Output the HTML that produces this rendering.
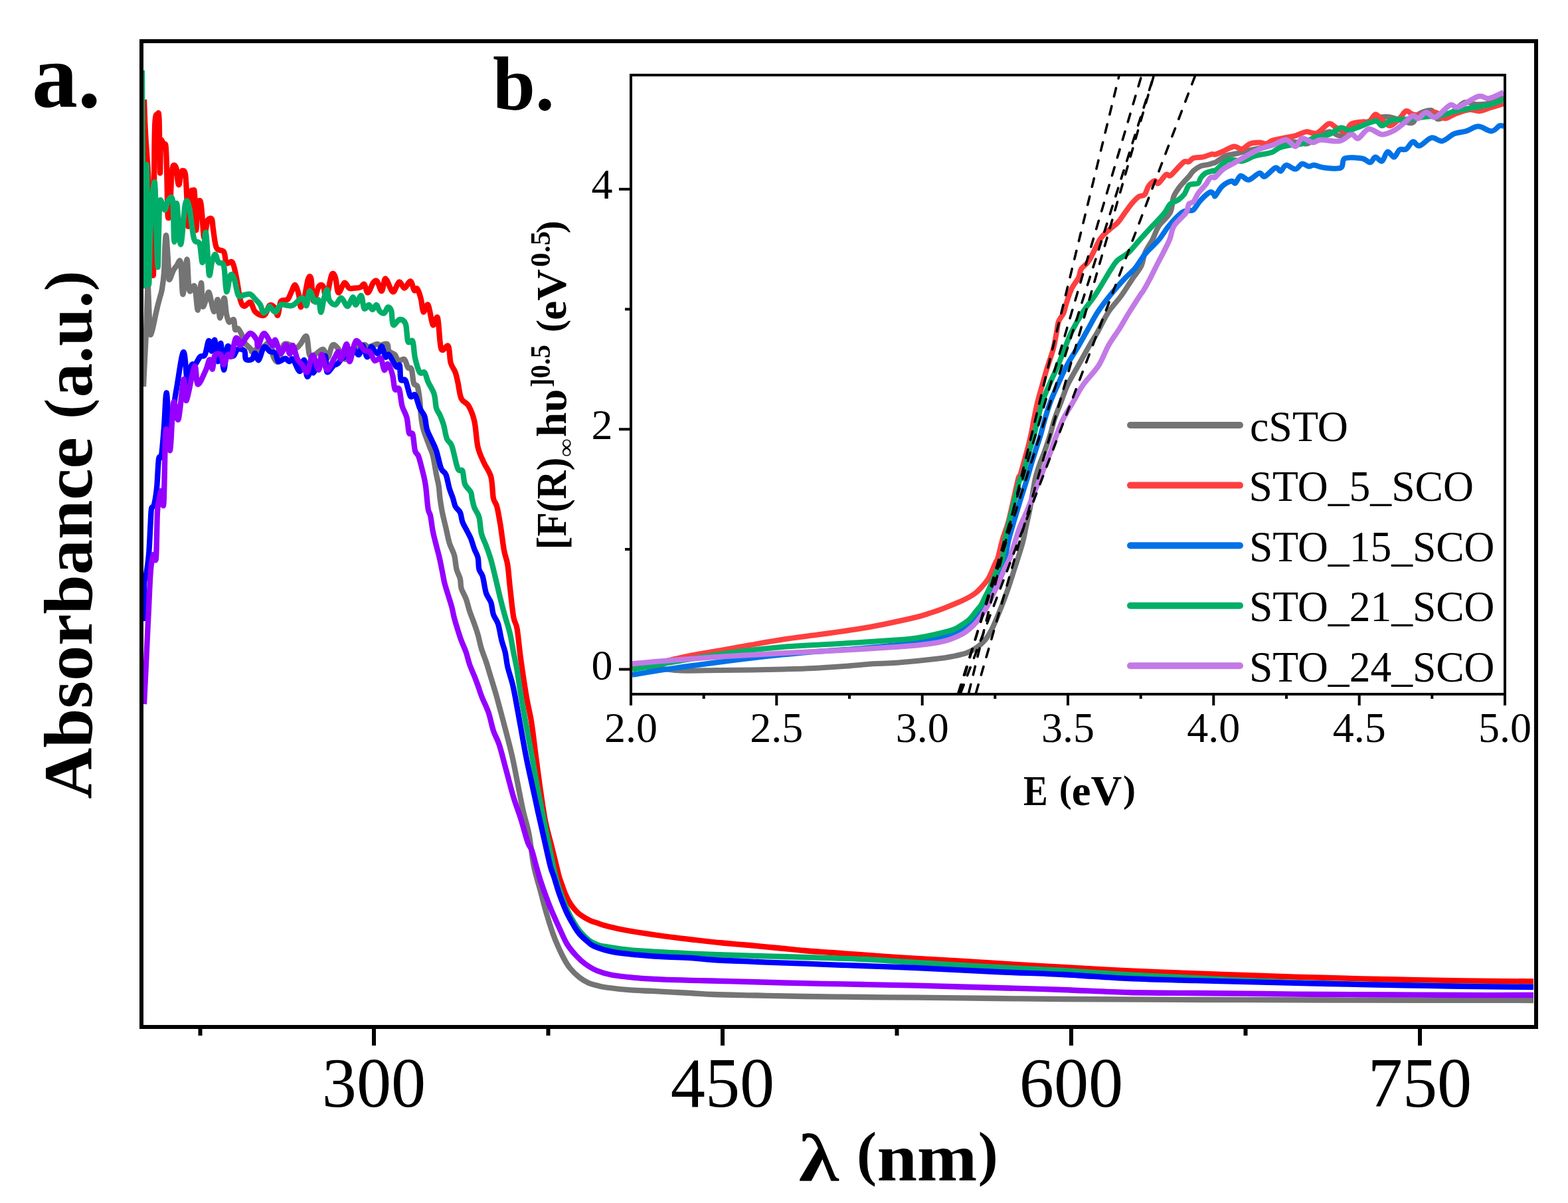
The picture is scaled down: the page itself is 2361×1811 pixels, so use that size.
<!DOCTYPE html>
<html><head><meta charset="utf-8"><title>Absorbance spectra</title>
<style>
html,body{margin:0;padding:0;background:#fff;}
svg{display:block;}
text{font-family:"Liberation Serif","DejaVu Serif",serif;fill:#000;}
.b{font-weight:bold;}
</style></head>
<body>
<svg width="2361" height="1811" viewBox="0 0 2361 1811">
<rect x="0" y="0" width="2361" height="1811" fill="#fff"/>
<!-- MAIN CURVES -->
<defs><clipPath id="cm"><rect x="216" y="65" width="2094" height="1478"/></clipPath><clipPath id="ci"><rect x="952" y="115" width="1312" height="928"/></clipPath></defs>
<g fill="none" stroke-width="8.3" stroke-linejoin="round" stroke-linecap="butt" clip-path="url(#cm)">
<path stroke="#747474" d="M216.0 582.0C216.3 575.0 217.3 553.7 218.0 540.0C218.7 526.3 219.3 516.7 220.0 500.0C220.7 483.3 221.6 452.8 222.0 440.0C222.4 427.2 222.2 418.0 222.6 423.0C223.0 428.0 223.9 456.8 224.5 470.0C225.1 483.2 225.2 497.3 226.0 502.0C226.8 506.7 227.8 501.7 229.0 498.0C230.2 494.3 231.7 486.0 233.0 480.0C234.3 474.0 235.7 467.5 237.0 462.0C238.3 456.5 239.8 451.5 241.0 447.0C242.2 442.5 243.0 441.2 244.0 435.0C245.0 428.8 246.2 420.8 247.0 410.0C247.8 399.2 247.9 379.0 248.5 370.0C249.1 361.0 249.6 349.8 250.5 356.0C251.4 362.2 253.2 396.2 254.0 407.0C254.8 417.8 253.8 421.0 255.0 421.0C256.2 421.0 259.2 410.5 261.0 407.0C262.8 403.5 264.2 402.0 266.0 400.0C267.8 398.0 270.4 387.8 272.0 395.0C273.6 402.2 273.9 443.8 275.5 443.0C277.1 442.2 279.8 391.5 281.4 390.5C283.0 389.5 283.1 430.2 285.0 437.0C286.9 443.8 290.8 426.1 293.0 431.0C295.2 435.9 296.4 467.5 298.0 466.7C299.6 465.9 301.7 427.0 302.9 426.0C304.1 425.0 303.8 456.4 305.0 460.7C306.2 465.0 308.4 455.4 310.0 452.0C311.6 448.6 312.8 437.7 314.8 440.5C316.8 443.3 319.8 467.2 322.0 469.0C324.2 470.8 326.3 449.4 327.9 451.0C329.5 452.6 329.8 479.0 331.4 478.6C333.0 478.2 335.8 449.8 337.4 448.8C339.0 447.8 339.7 466.6 341.0 472.6C342.3 478.6 343.2 483.3 345.0 484.8C346.8 486.3 350.5 479.5 352.0 481.4C353.5 483.3 352.9 493.7 354.0 496.0C355.1 498.3 356.9 493.1 358.8 495.0C360.8 496.9 364.2 504.2 365.7 507.7C367.2 511.1 366.1 512.9 368.0 515.7C369.9 518.6 375.1 522.5 377.0 524.8C378.9 527.1 377.9 529.2 379.4 529.4C380.9 529.6 384.1 526.4 386.0 526.0C387.9 525.6 388.9 527.8 390.8 527.0C392.7 526.2 394.7 523.5 397.6 521.4C400.5 519.3 405.7 512.1 408.0 514.5C410.3 516.9 409.4 531.0 411.3 536.0C413.2 541.0 416.6 547.0 419.3 544.2C422.0 541.4 424.1 523.0 427.3 519.0C430.5 515.0 435.6 519.2 438.7 520.0C441.8 520.8 443.7 524.3 446.0 524.0C448.3 523.7 449.8 520.9 452.4 518.0C455.0 515.1 459.3 503.8 461.6 506.5C463.9 509.2 463.9 529.4 466.0 534.0C468.1 538.6 470.6 535.3 474.0 534.0C477.4 532.7 483.4 525.2 486.7 526.0C489.9 526.8 491.2 539.5 493.5 538.5C495.8 537.5 497.9 522.5 500.4 520.0C502.9 517.5 505.2 520.2 508.4 523.7C511.6 527.2 516.9 540.1 519.8 540.8C522.7 541.5 523.5 530.8 526.0 528.0C528.5 525.2 531.3 525.5 535.0 524.0C538.7 522.5 545.1 519.2 548.3 519.0C551.5 518.8 551.9 522.2 554.0 522.5C556.1 522.8 558.4 521.2 560.7 520.5C563.0 519.8 565.9 518.1 567.9 518.0C569.9 517.9 570.5 519.6 573.0 519.6C575.5 519.6 580.9 516.5 583.0 518.0C585.1 519.5 583.8 525.9 585.7 528.6C587.6 531.3 592.2 531.6 594.6 534.0C597.0 536.4 597.6 541.8 600.0 543.0C602.4 544.2 606.6 539.2 609.0 541.0C611.4 542.8 612.5 551.2 614.3 553.6C616.1 556.0 618.1 551.5 619.6 555.4C621.1 559.3 621.5 572.4 623.0 576.8C624.5 581.2 627.1 577.8 628.6 582.0C630.1 586.2 631.1 594.3 632.0 601.8C632.9 609.3 633.1 619.4 634.0 626.8C634.9 634.2 635.4 639.0 637.5 646.4C639.6 653.8 644.0 664.8 646.4 671.4C648.8 678.0 650.0 678.6 651.8 685.7C653.6 692.9 655.5 706.6 657.0 714.3C658.5 722.0 659.8 726.0 660.7 732.0C661.6 738.0 661.6 743.4 662.5 750.0C663.4 756.6 664.5 764.0 666.0 771.4C667.5 778.8 669.6 786.9 671.4 794.6C673.2 802.4 674.7 811.0 676.8 817.9C678.9 824.8 682.2 829.2 684.0 835.7C685.8 842.2 686.0 851.0 687.5 857.0C689.0 863.0 691.7 866.6 692.9 871.4C694.1 876.2 693.1 880.6 694.6 885.7C696.1 890.8 699.7 896.1 701.8 901.8C703.9 907.4 704.9 913.4 707.0 919.6C709.1 925.9 712.2 933.3 714.3 939.3C716.4 945.3 717.8 949.1 719.6 955.4C721.4 961.6 722.9 970.0 725.0 976.8C727.1 983.6 729.9 990.1 732.0 996.4C734.1 1002.6 735.7 1008.4 737.5 1014.3C739.3 1020.2 741.1 1026.0 742.9 1032.0C744.7 1038.0 746.1 1042.5 748.2 1050.0C750.3 1057.5 753.0 1067.9 755.4 1076.8C757.8 1085.7 759.8 1093.2 762.5 1103.6C765.2 1114.0 768.7 1127.4 771.4 1139.3C774.1 1151.2 775.9 1161.6 778.6 1175.0C781.3 1188.4 784.5 1206.2 787.5 1219.6C790.5 1233.0 793.7 1241.4 796.4 1255.4C799.1 1269.4 801.0 1289.8 803.8 1303.8C806.6 1317.8 810.1 1327.6 813.3 1339.5C816.5 1351.4 819.7 1364.3 822.9 1375.2C826.1 1386.1 829.5 1396.9 832.4 1405.0C835.2 1413.1 837.2 1417.7 840.0 1424.0C842.8 1430.3 846.1 1437.4 849.1 1443.0C852.1 1448.6 854.5 1452.8 858.3 1457.5C862.1 1462.2 867.4 1467.3 872.0 1471.0C876.6 1474.7 881.2 1477.4 885.7 1479.5C890.2 1481.6 894.5 1482.3 899.0 1483.5C903.5 1484.7 904.6 1485.3 913.0 1486.5C921.4 1487.7 937.4 1489.5 949.6 1490.4C961.8 1491.4 970.9 1491.4 986.0 1492.2C1001.1 1493.0 1025.3 1494.2 1040.0 1495.0C1054.7 1495.8 1057.3 1496.4 1074.0 1497.0C1090.7 1497.6 1117.2 1498.0 1140.0 1498.5C1162.8 1499.0 1184.3 1499.6 1211.0 1500.0C1237.7 1500.4 1271.8 1500.7 1300.0 1501.0C1328.2 1501.3 1346.7 1501.4 1380.0 1501.7C1413.3 1502.0 1463.3 1502.6 1500.0 1503.0C1536.7 1503.4 1548.5 1503.7 1600.0 1504.0C1651.5 1504.3 1742.3 1504.8 1809.0 1505.0C1875.7 1505.2 1916.7 1505.3 2000.0 1505.5C2083.3 1505.7 2257.5 1505.9 2309.0 1506.0"/>
<path stroke="#FF0000" d="M217.0 150.0C217.3 158.3 218.0 181.7 219.0 200.0C220.0 218.3 221.7 238.3 223.0 260.0C224.3 281.7 225.7 304.7 227.0 330.0C228.3 355.3 230.1 430.3 231.0 412.0C231.9 393.7 232.0 259.0 232.5 220.0C233.0 181.0 233.2 185.8 234.0 178.0C234.8 170.2 236.1 173.0 237.0 173.0C237.9 173.0 238.8 163.5 239.5 178.0C240.2 192.5 240.6 253.8 241.0 260.0C241.4 266.2 241.5 223.0 242.0 215.0C242.5 207.0 243.2 211.5 244.0 212.0C244.8 212.5 245.6 216.8 246.5 218.0C247.4 219.2 248.8 213.7 249.5 219.0C250.2 224.3 250.6 236.5 251.0 250.0C251.4 263.5 251.7 287.2 252.0 300.0C252.3 312.8 252.3 324.0 253.0 327.0C253.7 330.0 255.2 327.5 256.0 318.0C256.8 308.5 257.3 281.0 258.0 270.0C258.7 259.0 259.2 255.5 260.0 252.0C260.8 248.5 262.0 248.3 263.0 249.0C264.0 249.7 265.2 251.7 266.0 256.0C266.8 260.3 267.3 271.5 268.0 275.0C268.7 278.5 269.3 279.2 270.0 277.0C270.7 274.8 271.2 265.3 272.0 262.0C272.8 258.7 273.8 257.0 275.0 257.0C276.2 257.0 278.0 256.5 279.0 262.0C280.0 267.5 280.3 277.0 281.0 290.0C281.7 303.0 282.3 335.0 283.0 340.0C283.7 345.0 284.3 328.3 285.0 320.0C285.7 311.7 286.0 295.5 287.0 290.0C288.0 284.5 290.0 286.7 291.0 287.0C292.0 287.3 292.3 282.2 293.0 292.0C293.7 301.8 294.3 341.3 295.0 346.0C295.7 350.7 296.3 327.0 297.0 320.0C297.7 313.0 298.2 306.7 299.0 304.0C299.8 301.3 301.2 301.3 302.0 304.0C302.8 306.7 303.2 311.2 304.0 320.0C304.8 328.8 306.0 352.8 307.0 357.0C308.0 361.2 309.0 349.3 310.0 345.0C311.0 340.7 311.5 333.5 313.0 331.0C314.5 328.5 317.7 327.7 319.0 330.0C320.3 332.3 319.8 337.8 321.0 345.0C322.2 352.2 323.3 367.3 326.0 373.0C328.7 378.7 334.5 375.2 337.0 379.0C339.5 382.8 338.8 393.3 341.0 396.0C343.2 398.7 347.5 391.3 350.0 395.0C352.5 398.7 354.0 408.5 356.0 418.0C358.0 427.5 360.0 444.8 362.0 452.0C364.0 459.2 365.5 460.5 368.0 461.0C370.5 461.5 374.3 453.7 377.0 455.0C379.7 456.3 381.1 465.7 384.0 469.0C386.9 472.3 391.8 474.4 394.5 475.0C397.2 475.6 398.1 475.0 400.0 472.5C401.9 470.0 403.6 461.8 405.7 460.0C407.8 458.2 410.5 459.6 412.6 462.0C414.7 464.4 416.6 476.0 418.3 474.7C420.0 473.4 420.4 458.0 422.8 454.0C425.2 450.0 430.3 453.2 433.0 450.8C435.7 448.4 436.9 443.0 438.8 439.4C440.7 435.8 442.6 428.2 444.5 429.0C446.4 429.8 448.7 438.5 450.0 444.0C451.3 449.5 451.2 461.1 452.5 462.0C453.8 462.9 456.1 456.6 458.0 449.6C459.9 442.6 462.2 424.9 464.0 420.0C465.8 415.1 467.2 414.5 468.5 420.0C469.8 425.5 470.1 451.1 472.0 453.0C473.9 454.9 477.5 435.0 480.0 431.4C482.5 427.8 484.9 428.5 486.8 431.4C488.7 434.2 489.2 451.4 491.3 448.5C493.4 445.6 497.0 419.1 499.3 414.0C501.6 408.9 503.3 413.3 505.0 417.7C506.7 422.1 507.3 439.2 509.6 440.5C511.9 441.8 516.0 426.8 518.7 425.7C521.4 424.6 522.9 432.4 525.6 433.7C528.3 435.0 531.9 433.9 534.7 433.7C537.6 433.5 540.4 433.4 542.7 432.5C545.0 431.6 546.5 426.7 548.4 428.0C550.3 429.3 551.7 440.9 554.0 440.5C556.3 440.1 559.7 428.6 562.0 425.7C564.3 422.8 565.7 421.3 567.8 423.4C569.9 425.5 572.8 438.6 574.7 438.2C576.6 437.8 577.9 423.7 579.2 421.0C580.5 418.3 580.5 419.1 582.6 422.2C584.7 425.3 588.7 439.0 591.8 439.4C594.9 439.8 598.1 425.4 601.0 424.5C603.9 423.6 606.2 433.9 609.0 433.7C611.8 433.5 615.5 422.8 618.0 423.4C620.5 423.9 622.0 435.1 623.7 437.0C625.4 438.9 626.6 432.5 628.3 434.8C630.0 437.1 632.5 445.0 634.0 450.8C635.5 456.6 635.7 468.2 637.5 469.6C639.3 471.0 642.2 455.8 644.6 459.0C647.0 462.2 649.4 485.7 651.8 489.0C654.2 492.3 656.9 472.6 659.0 478.6C661.1 484.6 661.6 517.9 664.3 525.0C667.0 532.1 672.6 517.5 675.0 521.0C677.4 524.5 676.8 539.4 678.6 546.0C680.4 552.6 683.9 555.9 685.7 560.7C687.5 565.5 687.8 568.5 689.3 575.0C690.8 581.5 691.9 594.0 694.6 600.0C697.3 606.0 702.1 605.0 705.4 610.7C708.7 616.4 711.9 623.6 714.3 634.0C716.7 644.4 717.2 662.6 719.6 673.0C722.0 683.4 725.3 688.9 728.6 696.4C731.9 703.9 736.9 709.1 739.3 718.0C741.7 726.9 741.4 742.6 742.9 750.0C744.4 757.4 746.4 755.7 748.2 762.5C750.0 769.3 751.8 780.0 753.6 791.0C755.4 802.0 757.2 818.8 759.0 828.6C760.8 838.4 762.8 840.8 764.3 850.0C765.8 859.2 766.4 870.9 767.9 884.0C769.4 897.1 771.4 918.2 773.2 928.6C775.0 939.0 776.8 936.0 778.6 946.4C780.4 956.8 781.6 973.7 784.0 991.0C786.4 1008.3 790.2 1034.2 792.9 1050.0C795.6 1065.8 797.6 1070.9 800.0 1085.7C802.4 1100.5 804.6 1121.1 807.0 1139.0C809.4 1156.9 811.9 1176.5 814.3 1192.9C816.7 1209.3 818.7 1224.2 821.4 1237.5C824.1 1250.8 827.5 1261.6 830.4 1273.0C833.2 1284.4 836.6 1298.2 838.5 1306.0C840.4 1313.8 840.7 1315.5 842.0 1320.0C843.3 1324.5 844.9 1328.6 846.5 1333.0C848.1 1337.4 849.7 1342.3 851.4 1346.2C853.1 1350.1 854.6 1353.2 856.5 1356.5C858.4 1359.8 860.4 1362.9 862.6 1365.8C864.9 1368.7 867.3 1371.5 870.0 1374.0C872.7 1376.5 875.8 1378.6 879.0 1380.6C882.2 1382.6 885.5 1384.5 889.0 1386.0C892.5 1387.5 896.6 1388.5 900.0 1389.7C903.4 1390.9 903.8 1391.5 909.6 1393.0C915.4 1394.5 925.9 1397.2 935.0 1399.0C944.1 1400.8 952.3 1402.2 964.0 1404.0C975.7 1405.8 991.2 1408.2 1005.0 1410.0C1018.8 1411.8 1032.8 1413.4 1046.6 1415.0C1060.4 1416.6 1074.3 1418.2 1088.0 1419.5C1101.7 1420.8 1115.1 1421.8 1128.8 1423.0C1142.5 1424.2 1156.3 1425.7 1170.0 1427.0C1183.7 1428.3 1197.3 1429.8 1211.0 1431.0C1224.7 1432.2 1238.3 1433.0 1252.0 1434.0C1265.7 1435.0 1278.3 1435.9 1293.0 1437.0C1307.7 1438.1 1325.5 1439.5 1340.0 1440.5C1354.5 1441.5 1361.7 1441.9 1380.0 1443.0C1398.3 1444.1 1425.0 1445.5 1450.0 1447.0C1475.0 1448.5 1505.0 1450.5 1530.0 1452.0C1555.0 1453.5 1571.7 1454.5 1600.0 1456.0C1628.3 1457.5 1666.7 1459.7 1700.0 1461.3C1733.3 1462.9 1766.7 1464.2 1800.0 1465.5C1833.3 1466.8 1866.7 1467.9 1900.0 1469.0C1933.3 1470.1 1966.7 1471.1 2000.0 1472.0C2033.3 1472.9 2066.7 1473.8 2100.0 1474.5C2133.3 1475.2 2165.2 1475.8 2200.0 1476.3C2234.8 1476.8 2290.8 1477.3 2309.0 1477.5"/>
<path stroke="#00AD68" d="M214.0 106.0C214.1 121.7 214.2 167.7 214.5 200.0C214.8 232.3 215.1 261.7 215.5 300.0C215.9 338.3 216.4 425.0 217.0 430.0C217.6 435.0 218.4 360.3 219.0 330.0C219.6 299.7 220.2 248.0 220.7 248.0C221.2 248.0 221.4 300.0 222.0 330.0C222.6 360.0 223.3 423.0 224.0 428.0C224.7 433.0 225.2 381.3 226.0 360.0C226.8 338.7 227.8 314.2 229.0 300.0C230.2 285.8 232.0 270.0 233.0 275.0C234.0 280.0 234.2 308.8 235.0 330.0C235.8 351.2 236.8 398.7 237.5 402.0C238.2 405.3 238.4 366.7 239.0 350.0C239.6 333.3 239.5 307.7 241.0 302.0C242.5 296.3 246.0 316.0 248.0 316.0C250.0 316.0 251.0 304.3 253.0 302.0C255.0 299.7 258.4 291.7 260.0 302.0C261.6 312.3 261.4 363.3 262.4 364.0C263.4 364.7 264.4 305.3 266.0 306.0C267.6 306.7 269.8 367.8 272.0 368.0C274.2 368.2 276.8 316.3 279.0 307.0C281.2 297.7 282.8 303.3 285.0 312.0C287.2 320.7 289.4 349.8 292.0 359.0C294.6 368.2 298.3 361.0 300.5 367.0C302.7 373.0 303.4 397.8 305.0 395.0C306.6 392.2 308.4 347.0 310.0 350.0C311.6 353.0 313.3 405.5 314.8 413.0C316.3 420.5 317.5 400.0 319.0 395.0C320.5 390.0 322.3 383.0 324.0 383.0C325.7 383.0 326.8 392.2 329.0 395.0C331.2 397.8 335.0 392.7 337.0 400.0C339.0 407.3 339.3 436.7 341.0 439.0C342.7 441.3 345.0 417.0 347.0 414.0C349.0 411.0 351.0 415.8 353.0 421.0C355.0 426.2 356.5 441.2 359.0 445.0C361.5 448.8 365.0 444.3 368.0 444.0C371.0 443.7 374.2 441.8 377.0 443.0C379.8 444.2 382.5 448.3 385.0 451.0C387.5 453.7 390.0 455.7 392.0 459.0C394.0 462.3 394.8 470.3 397.0 471.0C399.2 471.7 403.4 464.5 405.0 463.0C406.6 461.5 405.2 460.8 406.8 462.0C408.4 463.2 412.1 470.5 414.8 470.0C417.5 469.5 418.6 460.5 422.8 458.8C427.0 457.1 434.7 461.7 440.0 460.0C445.3 458.3 451.2 448.5 454.8 448.5C458.4 448.5 459.7 461.7 461.6 460.0C463.5 458.3 464.1 439.2 466.2 438.2C468.3 437.2 471.9 451.9 474.2 454.2C476.5 456.5 478.5 449.4 480.0 452.0C481.5 454.6 482.0 470.6 483.3 470.0C484.6 469.4 486.5 454.2 488.0 448.5C489.5 442.8 491.2 435.4 492.5 436.0C493.8 436.6 493.8 448.2 495.9 452.0C498.0 455.8 502.0 459.4 505.0 458.8C508.0 458.2 510.9 448.1 514.0 448.5C517.0 448.9 520.4 461.2 523.3 461.0C526.2 460.8 529.2 447.8 531.3 447.4C533.4 447.0 533.7 459.2 535.8 458.8C537.9 458.4 541.7 444.1 543.8 445.0C545.9 445.9 546.5 462.2 548.4 464.5C550.3 466.8 553.3 458.8 555.4 459.0C557.5 459.2 558.8 466.0 560.7 466.0C562.6 466.0 565.2 458.7 567.0 459.0C568.8 459.3 569.5 465.9 571.4 468.0C573.3 470.1 576.5 472.3 578.6 471.4C580.7 470.5 582.2 463.1 584.0 462.5C585.8 461.9 588.0 463.6 589.3 468.0C590.6 472.4 589.9 486.8 592.0 489.0C594.1 491.2 598.7 481.2 601.8 481.0C604.9 480.8 608.6 482.0 610.7 487.5C612.8 493.0 612.5 509.6 614.3 514.0C616.1 518.4 619.6 509.8 621.4 514.0C623.2 518.2 623.2 531.2 625.0 539.0C626.8 546.8 629.6 557.1 632.0 560.7C634.4 564.3 637.2 558.3 639.3 560.7C641.4 563.1 642.2 569.6 644.6 575.0C647.0 580.4 651.5 586.4 653.6 592.9C655.7 599.4 655.5 608.9 657.0 614.3C658.5 619.6 660.7 620.8 662.5 625.0C664.3 629.2 666.1 633.3 667.9 639.3C669.6 645.2 670.9 655.4 673.0 660.7C675.1 666.1 677.7 664.0 680.4 671.4C683.1 678.8 686.6 699.1 689.3 705.4C692.0 711.7 694.6 705.1 696.4 709.0C698.2 712.9 697.9 723.3 700.0 728.6C702.1 733.9 707.2 737.4 709.0 741.0C710.8 744.6 709.8 746.1 710.7 750.0C711.6 753.9 712.5 759.5 714.3 764.3C716.1 769.1 719.6 772.0 721.4 778.6C723.2 785.2 723.2 796.5 725.0 803.6C726.8 810.7 729.6 814.9 732.0 821.4C734.4 827.9 736.9 834.6 739.3 842.9C741.7 851.2 744.0 861.6 746.4 871.4C748.8 881.2 751.2 892.3 753.6 901.8C756.0 911.3 758.3 920.0 760.7 928.6C763.1 937.2 765.8 944.7 767.9 953.6C770.0 962.5 771.4 972.8 773.2 982.0C775.0 991.2 776.7 997.7 778.6 1009.0C780.5 1020.3 782.4 1035.7 784.8 1050.0C787.2 1064.3 790.1 1079.1 792.9 1094.6C795.7 1110.1 798.8 1126.5 801.8 1142.9C804.8 1159.3 807.7 1177.1 810.7 1192.9C813.7 1208.7 816.6 1222.7 819.6 1237.5C822.6 1252.3 825.7 1268.2 828.6 1282.0C831.5 1295.8 834.1 1309.3 836.8 1320.0C839.5 1330.7 841.9 1337.5 845.0 1346.2C848.1 1354.9 851.8 1364.5 855.2 1372.0C858.6 1379.5 862.4 1385.8 865.5 1391.0C868.6 1396.2 870.3 1398.8 874.0 1403.0C877.7 1407.2 883.3 1412.8 887.5 1416.0C891.7 1419.2 895.3 1420.5 899.0 1422.0C902.7 1423.5 903.6 1423.6 909.6 1424.7C915.6 1425.8 925.9 1427.4 935.0 1428.5C944.1 1429.6 950.0 1430.5 964.0 1431.5C978.0 1432.5 1000.7 1433.6 1019.0 1434.5C1037.3 1435.4 1053.8 1436.2 1074.0 1437.0C1094.2 1437.8 1117.2 1438.3 1140.0 1439.0C1162.8 1439.7 1184.3 1440.2 1211.0 1441.0C1237.7 1441.8 1271.8 1442.7 1300.0 1444.0C1328.2 1445.3 1346.7 1447.0 1380.0 1449.0C1413.3 1451.0 1463.3 1454.0 1500.0 1456.0C1536.7 1458.0 1566.7 1459.1 1600.0 1461.0C1633.3 1462.9 1666.7 1465.4 1700.0 1467.3C1733.3 1469.2 1766.7 1470.6 1800.0 1472.2C1833.3 1473.8 1866.7 1475.6 1900.0 1477.0C1933.3 1478.4 1966.7 1479.5 2000.0 1480.5C2033.3 1481.5 2066.7 1482.1 2100.0 1482.8C2133.3 1483.5 2165.2 1484.0 2200.0 1484.5C2234.8 1485.0 2290.8 1485.3 2309.0 1485.5"/>
<path stroke="#0000FF" d="M217.0 935.0C217.0 925.8 216.5 891.7 217.0 880.0C217.5 868.3 218.8 872.5 220.0 865.0C221.2 857.5 222.9 847.5 224.0 835.0C225.1 822.5 225.8 801.5 226.5 790.0C227.2 778.5 227.1 771.0 228.0 766.0C228.9 761.0 230.7 765.2 232.0 760.0C233.3 754.8 234.8 746.5 236.0 735.0C237.2 723.5 237.8 699.2 239.0 691.0C240.2 682.8 241.7 694.0 243.0 686.0C244.3 678.0 245.7 658.8 247.0 643.0C248.3 627.2 249.2 591.7 250.7 591.4C252.1 591.1 253.2 642.0 255.7 641.0C258.2 640.0 262.2 604.2 265.7 585.7C269.1 567.2 273.5 530.3 276.4 530.0C279.3 529.7 281.0 580.5 282.9 584.0C284.8 587.5 286.0 556.9 287.9 551.0C289.8 545.1 291.8 550.9 294.0 548.6C296.2 546.3 299.0 539.4 301.4 537.0C303.8 534.6 306.5 538.0 308.6 534.0C310.8 530.0 312.6 513.9 314.3 513.0C316.0 512.1 317.1 528.8 318.6 528.6C320.1 528.4 321.8 509.4 323.4 512.0C325.0 514.6 326.5 543.4 328.0 544.2C329.5 545.0 331.1 514.7 332.6 516.8C334.1 518.9 335.3 556.0 337.0 556.8C338.7 557.6 340.5 524.9 342.8 521.4C345.1 517.9 348.3 535.2 350.8 536.0C353.3 536.8 354.8 527.3 357.7 526.0C360.6 524.7 365.9 525.7 368.0 528.2C370.1 530.7 368.3 538.7 370.2 540.8C372.1 542.9 377.1 542.3 379.4 540.8C381.7 539.3 382.3 531.4 384.0 531.6C385.7 531.8 387.3 543.5 389.6 542.0C391.9 540.5 394.7 524.6 397.6 522.5C400.5 520.4 404.0 527.9 406.8 529.4C409.6 530.9 412.6 529.1 414.7 531.6C416.8 534.1 416.8 542.9 419.3 544.2C421.8 545.5 426.9 539.6 429.6 539.6C432.3 539.6 433.4 544.0 435.3 544.2C437.2 544.4 438.3 538.3 441.0 540.8C443.7 543.3 448.5 558.8 451.3 559.0C454.1 559.2 456.1 540.7 458.0 542.0C459.9 543.3 460.6 565.7 462.7 567.0C464.8 568.3 469.2 551.0 470.7 550.0C472.2 549.0 470.2 561.6 471.8 561.3C473.4 561.0 477.0 552.2 480.0 548.0C483.0 543.8 487.9 534.0 490.0 536.0C492.1 538.0 490.3 557.7 492.4 560.0C494.5 562.3 500.0 552.1 502.7 550.0C505.4 547.9 506.5 549.1 508.4 547.6C510.3 546.1 511.5 543.1 514.0 540.8C516.5 538.5 520.3 536.7 523.2 534.0C526.1 531.3 528.4 524.8 531.2 524.8C534.1 524.8 537.8 534.8 540.3 534.0C542.8 533.2 543.9 519.4 546.0 520.0C548.1 520.6 550.8 537.0 552.9 537.4C555.0 537.8 556.7 524.0 558.6 522.5C560.5 521.0 562.5 527.0 564.3 528.6C566.1 530.2 567.8 533.2 569.6 532.0C571.4 530.8 573.2 520.5 575.0 521.4C576.8 522.3 578.6 535.4 580.4 537.5C582.2 539.6 583.0 531.6 585.7 534.0C588.4 536.4 593.7 549.1 596.4 551.8C599.1 554.5 600.6 546.7 601.8 550.0C603.0 553.3 602.1 567.6 603.6 571.4C605.1 575.2 608.3 568.8 610.7 573.0C613.1 577.2 615.5 592.8 617.9 596.4C620.3 600.0 622.6 591.6 625.0 594.6C627.4 597.6 629.6 608.9 632.0 614.3C634.4 619.7 637.5 621.4 639.3 626.8C641.1 632.1 641.1 640.4 642.9 646.4C644.7 652.4 647.6 657.1 650.0 662.5C652.4 667.9 654.6 671.5 657.0 678.6C659.4 685.8 661.9 699.5 664.3 705.4C666.7 711.3 669.3 709.2 671.4 714.3C673.5 719.3 675.0 729.8 676.8 735.7C678.6 741.7 680.5 745.5 682.0 750.0C683.5 754.5 683.9 758.9 685.7 762.5C687.5 766.1 691.1 767.5 692.9 771.4C694.7 775.3 694.6 780.9 696.4 785.7C698.2 790.5 701.5 795.8 703.6 800.0C705.7 804.2 707.2 806.2 709.0 810.7C710.8 815.2 712.5 822.0 714.3 826.8C716.1 831.6 718.4 834.3 719.6 839.3C720.8 844.3 720.2 852.2 721.4 857.0C722.6 861.8 725.0 861.9 726.8 867.9C728.6 873.9 729.9 886.4 732.0 892.9C734.1 899.4 737.5 901.6 739.3 907.0C741.1 912.4 741.1 919.6 742.9 925.0C744.7 930.4 747.9 932.8 750.0 939.3C752.1 945.8 753.6 957.2 755.4 964.3C757.2 971.4 759.2 975.5 760.7 982.0C762.2 988.5 762.5 995.8 764.3 1003.6C766.1 1011.4 769.5 1020.9 771.4 1028.6C773.3 1036.3 773.8 1039.0 775.9 1050.0C778.0 1061.0 781.2 1079.1 784.0 1094.6C786.8 1110.1 789.9 1128.0 792.9 1142.9C795.9 1157.8 798.8 1170.3 801.8 1184.0C804.8 1197.7 807.7 1211.6 810.7 1225.0C813.7 1238.4 816.6 1251.2 819.6 1264.3C822.6 1277.4 826.2 1294.3 828.6 1303.6C831.0 1312.9 831.8 1312.9 834.1 1320.0C836.4 1327.1 839.2 1337.5 842.3 1346.2C845.4 1354.9 849.2 1364.8 852.7 1372.4C856.2 1380.0 860.0 1386.6 863.2 1392.0C866.4 1397.4 868.0 1400.6 871.7 1405.0C875.4 1409.4 881.6 1414.9 885.5 1418.2C889.4 1421.5 889.2 1422.3 895.3 1424.8C901.4 1427.2 911.6 1430.8 922.2 1432.9C932.8 1435.0 946.5 1436.2 958.7 1437.4C970.9 1438.6 981.8 1439.4 995.3 1440.2C1008.8 1441.0 1026.9 1441.2 1040.0 1442.0C1053.1 1442.8 1057.3 1444.0 1074.0 1445.0C1090.7 1446.0 1117.2 1447.0 1140.0 1448.0C1162.8 1449.0 1184.3 1449.7 1211.0 1450.7C1237.7 1451.7 1271.8 1453.0 1300.0 1454.0C1328.2 1455.0 1346.7 1455.5 1380.0 1457.0C1413.3 1458.5 1463.3 1461.3 1500.0 1463.0C1536.7 1464.7 1566.7 1465.3 1600.0 1467.0C1633.3 1468.7 1666.7 1471.7 1700.0 1473.2C1733.3 1474.7 1766.7 1475.3 1800.0 1476.2C1833.3 1477.1 1866.7 1477.9 1900.0 1478.7C1933.3 1479.5 1966.7 1480.3 2000.0 1481.0C2033.3 1481.7 2066.7 1482.4 2100.0 1483.0C2133.3 1483.6 2165.2 1484.3 2200.0 1484.8C2234.8 1485.3 2290.8 1485.8 2309.0 1486.0"/>
<path stroke="#9500FF" d="M217.0 1060.0C217.3 1053.3 218.3 1033.7 219.0 1020.0C219.7 1006.3 220.2 995.5 221.0 978.0C221.8 960.5 223.0 935.0 224.0 915.0C225.0 895.0 225.8 871.3 227.0 858.0C228.2 844.7 229.7 838.0 231.0 835.0C232.3 832.0 234.0 850.7 235.0 840.0C236.0 829.3 236.2 786.0 237.0 771.0C237.8 756.0 239.0 755.3 240.0 750.0C241.0 744.7 241.9 737.7 243.0 739.0C244.1 740.3 245.5 771.2 246.5 758.0C247.5 744.8 248.2 678.3 249.0 660.0C249.8 641.7 250.0 645.5 251.0 648.0C252.0 650.5 254.0 671.3 255.0 675.0C256.0 678.7 255.9 681.5 257.0 670.0C258.1 658.5 259.5 612.1 261.4 605.7C263.3 599.3 266.1 637.1 268.6 631.4C271.1 625.7 274.4 576.1 276.4 571.4C278.4 566.6 277.9 606.2 280.7 602.9C283.4 599.6 290.0 555.4 292.9 551.4C295.8 547.4 295.0 577.7 297.9 578.6C300.8 579.5 307.0 563.2 310.0 557.0C313.0 550.8 314.0 541.6 315.7 541.4C317.4 541.2 318.7 556.7 320.0 555.6C321.3 554.5 321.3 538.6 323.4 535.0C325.5 531.4 330.3 531.7 332.6 534.0C334.9 536.3 335.3 548.8 337.0 548.8C338.7 548.8 340.9 536.1 342.8 534.0C344.7 531.9 346.6 539.8 348.5 536.0C350.4 532.2 352.5 515.2 354.2 511.0C355.9 506.8 357.5 509.5 358.8 511.0C360.1 512.5 359.3 521.5 362.2 520.0C365.1 518.5 372.0 503.5 376.0 502.0C380.0 500.5 384.1 507.8 386.2 511.0C388.3 514.2 386.6 522.9 388.5 521.4C390.4 519.9 394.0 502.2 397.6 502.0C401.2 501.8 407.4 518.3 410.2 520.0C413.0 521.7 412.6 510.1 414.7 512.0C416.8 513.9 420.0 530.4 422.7 531.6C425.4 532.8 428.4 518.8 430.7 519.0C433.0 519.2 434.7 532.6 436.4 532.8C438.1 533.0 439.1 518.7 441.0 520.0C442.9 521.3 445.6 536.0 447.9 540.8C450.2 545.6 452.2 545.6 454.7 548.8C457.2 552.0 460.0 562.5 462.7 560.2C465.4 557.9 467.8 535.6 470.7 535.0C473.6 534.4 477.5 557.0 479.8 556.8C482.1 556.6 482.3 534.0 484.4 534.0C486.5 534.0 489.3 555.7 492.4 556.8C495.4 557.9 499.8 545.4 502.7 540.8C505.6 536.2 507.6 529.4 509.5 529.4C511.4 529.4 511.9 542.7 514.0 540.8C516.1 538.9 519.9 517.4 522.0 518.0C524.1 518.6 524.3 545.0 526.6 544.2C528.9 543.4 532.2 516.3 535.8 513.4C539.4 510.5 544.8 524.2 548.3 527.0C551.8 529.8 554.3 527.3 557.0 530.0C559.7 532.7 561.6 541.5 564.3 543.0C567.0 544.5 570.8 537.0 573.2 539.3C575.6 541.6 576.8 555.5 578.6 557.0C580.4 558.5 581.9 546.8 584.0 548.0C586.1 549.2 589.2 558.0 591.0 564.3C592.8 570.6 592.9 582.1 594.6 585.7C596.3 589.3 599.2 581.5 601.0 585.7C602.8 589.9 603.5 603.6 605.4 610.7C607.3 617.9 610.7 621.8 612.5 628.6C614.3 635.5 614.5 647.6 616.0 651.8C617.5 656.0 619.9 649.1 621.4 653.6C622.9 658.1 623.5 673.0 625.0 678.6C626.5 684.2 628.3 681.5 630.4 687.5C632.5 693.5 635.7 706.9 637.5 714.3C639.3 721.7 639.8 723.4 641.0 732.0C642.2 740.6 643.4 758.5 644.6 766.0C645.8 773.5 647.0 771.1 648.2 776.8C649.4 782.5 650.3 792.6 651.8 800.0C653.3 807.4 655.4 814.9 657.0 821.4C658.6 827.9 660.1 832.8 661.6 839.3C663.1 845.8 664.7 854.2 666.0 860.7C667.3 867.2 668.1 872.7 669.6 878.6C671.1 884.5 673.2 890.5 675.0 896.4C676.8 902.3 678.9 908.6 680.4 914.3C681.9 920.0 682.5 924.8 684.0 930.4C685.5 936.0 687.5 942.6 689.3 948.2C691.1 953.9 692.5 958.7 694.6 964.3C696.7 969.9 699.7 976.0 701.8 982.0C703.9 988.0 704.9 994.0 707.0 1000.0C709.1 1006.0 712.2 1012.6 714.3 1017.9C716.4 1023.2 717.7 1026.7 719.6 1032.0C721.5 1037.3 723.2 1043.2 725.9 1050.0C728.6 1056.8 732.9 1064.7 735.7 1073.0C738.5 1081.3 740.2 1091.9 742.9 1100.0C745.6 1108.1 748.5 1111.3 751.8 1121.4C755.1 1131.5 758.9 1147.6 762.5 1160.7C766.1 1173.8 769.6 1188.1 773.2 1200.0C776.8 1211.9 780.4 1220.7 784.0 1232.0C787.6 1243.3 791.8 1259.9 794.6 1267.9C797.4 1275.9 798.7 1274.0 800.8 1280.0C802.9 1286.0 805.1 1295.9 807.4 1303.8C809.7 1311.7 811.9 1319.7 814.5 1327.6C817.1 1335.5 819.9 1343.5 822.9 1351.4C825.9 1359.3 829.0 1367.3 832.4 1375.2C835.8 1383.1 839.5 1391.4 843.1 1399.0C846.7 1406.6 849.7 1414.4 853.7 1421.0C857.8 1427.6 862.8 1433.5 867.4 1438.5C872.0 1443.5 875.8 1447.2 881.1 1451.0C886.4 1454.8 892.5 1458.7 899.4 1461.5C906.2 1464.3 912.3 1466.2 922.2 1468.0C932.1 1469.8 946.5 1471.0 958.7 1472.1C970.9 1473.2 981.8 1473.8 995.3 1474.4C1008.8 1475.0 1027.5 1475.5 1040.0 1475.8C1052.5 1476.1 1055.2 1476.1 1070.0 1476.5C1084.8 1476.9 1110.5 1477.5 1128.8 1478.0C1147.1 1478.5 1161.8 1479.0 1180.0 1479.5C1198.2 1480.0 1218.0 1480.4 1238.0 1480.8C1258.0 1481.2 1276.3 1481.5 1300.0 1482.0C1323.7 1482.5 1346.7 1482.9 1380.0 1483.7C1413.3 1484.5 1463.3 1486.0 1500.0 1487.0C1536.7 1488.0 1566.7 1488.8 1600.0 1490.0C1633.3 1491.2 1666.7 1493.2 1700.0 1494.0C1733.3 1494.8 1766.7 1494.7 1800.0 1495.0C1833.3 1495.3 1866.7 1495.7 1900.0 1496.0C1933.3 1496.3 1966.7 1496.8 2000.0 1497.0C2033.3 1497.2 2066.7 1497.3 2100.0 1497.5C2133.3 1497.7 2165.2 1497.9 2200.0 1498.0C2234.8 1498.1 2290.8 1498.0 2309.0 1498.0"/>
</g>
<!-- main frame -->
<rect x="213" y="62" width="2100" height="1484" fill="none" stroke="#000" stroke-width="6"/>
<g stroke="#000" stroke-width="6">
<line x1="563" y1="1546" x2="563" y2="1574"/>
<line x1="1088" y1="1546" x2="1088" y2="1574"/>
<line x1="1613" y1="1546" x2="1613" y2="1574"/>
<line x1="2138" y1="1546" x2="2138" y2="1574"/>
<line x1="301.5" y1="1546" x2="301.5" y2="1559"/>
<line x1="825.5" y1="1546" x2="825.5" y2="1559"/>
<line x1="1350.5" y1="1546" x2="1350.5" y2="1559"/>
<line x1="1875.5" y1="1546" x2="1875.5" y2="1559"/>
</g>
<g font-size="106" text-anchor="middle">
<text x="563" y="1666" textLength="156.5" lengthAdjust="spacingAndGlyphs">300</text>
<text x="1088" y="1666" textLength="156.5" lengthAdjust="spacingAndGlyphs">450</text>
<text x="1613" y="1666" textLength="156.5" lengthAdjust="spacingAndGlyphs">600</text>
<text x="2138" y="1666" textLength="156.5" lengthAdjust="spacingAndGlyphs">750</text>
</g>
<text class="b" x="1202.8" y="1777.5" font-size="102" textLength="60.3" lengthAdjust="spacingAndGlyphs">λ</text>
<text class="b" x="1290" y="1767" font-size="90">(</text>
<text class="b" x="1320.4" y="1777" font-size="102" textLength="151" lengthAdjust="spacingAndGlyphs">nm</text>
<text class="b" x="1472.8" y="1767" font-size="90">)</text>
<g transform="translate(137.6,1204) rotate(-90)">
<text class="b" x="1.3" y="0" font-size="104" textLength="544.5" lengthAdjust="spacingAndGlyphs">Absorbance</text>
<text class="b" x="573.3" y="-7.6" font-size="92">(</text>
<text class="b" x="605.8" y="0" font-size="104" textLength="160.1" lengthAdjust="spacingAndGlyphs">a.u.</text>
<text class="b" x="765.8" y="-7.6" font-size="92">)</text>
</g>
<text class="b" x="48" y="161" font-size="138">a.</text>
<text class="b" x="742" y="165" font-size="115">b.</text>

<!-- INSET -->
<rect x="950" y="113" width="1316" height="932" fill="#fff" stroke="none"/>
<g fill="none" stroke-width="8" stroke-linejoin="round" stroke-linecap="butt" clip-path="url(#ci)">
<path stroke="#747474" d="M952.0 1002.0C958.3 1002.7 977.8 1004.8 990.0 1006.0C1002.2 1007.2 1010.0 1009.0 1025.0 1009.5C1040.0 1010.0 1062.1 1009.2 1080.0 1009.0C1097.9 1008.8 1115.9 1008.6 1132.6 1008.4C1149.3 1008.1 1164.8 1007.9 1180.0 1007.5C1195.2 1007.1 1209.0 1006.8 1224.0 1006.0C1239.0 1005.2 1254.8 1004.1 1270.0 1003.0C1285.2 1001.9 1301.7 1000.2 1315.0 999.3C1328.3 998.4 1334.1 999.0 1350.0 997.8C1365.9 996.5 1396.1 993.5 1410.4 991.8C1424.7 990.1 1428.1 989.3 1435.7 987.8C1443.3 986.3 1450.0 984.9 1455.9 982.7C1461.8 980.5 1466.5 977.8 1471.1 974.6C1475.6 971.4 1479.5 968.0 1483.2 963.5C1486.9 959.0 1490.4 953.0 1493.4 947.3C1496.5 941.5 1498.8 935.4 1501.5 929.0C1504.2 922.6 1506.9 915.9 1509.6 908.8C1512.3 901.7 1515.2 893.9 1517.7 886.6C1520.2 879.4 1521.2 876.4 1524.7 865.3C1528.2 854.2 1535.6 832.0 1539.0 820.0C1542.4 808.0 1543.2 801.3 1545.0 793.0C1546.8 784.7 1548.4 778.0 1550.0 770.0C1551.6 762.0 1553.0 753.3 1554.5 745.0C1556.0 736.7 1557.2 727.5 1559.0 720.0C1560.8 712.5 1562.7 706.7 1565.0 700.0C1567.3 693.3 1570.0 687.5 1572.7 680.0C1575.4 672.5 1578.5 663.3 1581.1 655.0C1583.7 646.7 1585.4 638.3 1588.2 630.0C1591.0 621.7 1594.5 613.3 1597.7 605.0C1600.9 596.7 1603.0 589.2 1607.3 580.0C1611.6 570.8 1618.2 560.0 1623.8 550.0C1629.3 540.0 1635.7 528.3 1640.5 520.0C1645.3 511.7 1647.9 508.3 1652.6 500.0C1657.3 491.7 1662.8 479.2 1668.8 470.0C1674.8 460.8 1682.5 453.3 1688.5 445.0C1694.5 436.7 1700.0 427.5 1705.0 420.0C1710.0 412.5 1715.4 406.7 1718.6 400.0C1721.8 393.3 1721.4 386.7 1724.3 380.0C1727.2 373.3 1732.2 366.7 1735.7 360.0C1739.2 353.3 1740.6 346.7 1745.0 340.0C1749.4 333.3 1758.3 327.3 1762.0 320.0C1765.7 312.7 1764.8 302.7 1767.1 296.4C1769.4 290.1 1773.1 285.9 1775.7 282.1C1778.3 278.3 1780.3 276.6 1782.9 273.6C1785.5 270.6 1789.0 267.1 1791.4 264.3C1793.8 261.6 1794.3 259.5 1797.1 257.1C1799.8 254.7 1804.3 251.5 1807.9 250.0C1811.5 248.5 1815.2 248.7 1818.6 247.9C1821.9 247.1 1826.1 245.6 1828.0 245.0C1829.9 244.4 1827.0 246.3 1830.0 244.6C1833.0 242.8 1841.0 236.7 1846.0 234.5C1851.0 232.3 1854.4 232.8 1860.1 231.5C1865.8 230.2 1873.5 228.0 1880.2 226.5C1886.9 225.0 1893.6 224.2 1900.3 222.5C1907.0 220.8 1913.7 218.1 1920.4 216.4C1927.1 214.7 1932.8 212.4 1940.5 212.4C1948.2 212.4 1959.9 217.1 1966.6 216.4C1973.3 215.7 1975.0 211.4 1980.7 208.4C1986.4 205.4 1994.4 199.1 2000.8 198.4C2007.2 197.7 2013.9 205.4 2018.9 204.4C2023.9 203.4 2025.7 195.3 2031.0 192.3C2036.3 189.3 2042.7 189.0 2051.0 186.3C2059.3 183.6 2073.3 177.8 2081.0 176.3C2088.7 174.8 2089.8 175.8 2097.2 177.3C2104.6 178.8 2119.0 186.2 2125.4 185.3C2131.8 184.5 2130.4 175.4 2135.4 172.2C2140.4 169.0 2150.5 165.0 2155.5 166.2C2160.5 167.4 2160.2 179.0 2165.5 179.3C2170.8 179.6 2180.9 172.4 2187.6 168.2C2194.3 164.0 2199.7 156.0 2205.7 154.2C2211.7 152.4 2217.4 157.0 2223.8 157.2C2230.2 157.4 2237.2 157.2 2243.9 155.2C2250.6 153.2 2260.7 146.7 2264.0 145.0"/>
<path stroke="#FF3F3F" d="M952.0 1007.0C957.5 1005.8 974.3 1002.5 985.0 1000.0C995.7 997.5 1005.2 994.5 1016.0 992.0C1026.8 989.5 1038.2 987.2 1050.0 985.0C1061.8 982.8 1073.7 981.0 1087.0 978.7C1100.3 976.4 1114.8 973.7 1130.0 971.0C1145.2 968.3 1160.5 965.4 1178.0 962.7C1195.5 960.0 1215.9 957.6 1235.0 955.0C1254.1 952.4 1276.7 949.3 1292.5 946.8C1308.3 944.3 1315.4 943.0 1330.0 940.0C1344.6 937.0 1368.3 931.8 1380.0 929.0C1391.7 926.2 1393.5 925.2 1400.2 923.0C1407.0 920.8 1413.8 918.4 1420.5 915.9C1427.2 913.4 1434.8 910.3 1440.7 907.8C1446.6 905.3 1451.2 903.2 1455.9 900.7C1460.6 898.2 1465.1 895.6 1469.0 892.6C1472.9 889.6 1476.2 885.9 1479.2 882.5C1482.2 879.1 1484.9 876.1 1487.3 872.4C1489.7 868.7 1491.4 864.6 1493.4 860.2C1495.4 855.8 1497.9 849.4 1499.4 846.0C1500.9 842.6 1500.8 845.7 1502.5 840.0C1504.2 834.3 1506.8 821.5 1509.5 812.0C1512.2 802.5 1515.1 798.1 1519.0 783.0C1522.9 767.9 1530.4 731.9 1533.0 721.4C1535.6 710.9 1533.5 723.6 1534.7 720.0C1536.0 716.4 1538.6 706.7 1540.5 700.0C1542.4 693.3 1544.0 687.5 1546.0 680.0C1548.0 672.5 1550.4 663.3 1552.2 655.0C1554.0 646.7 1555.3 638.3 1557.0 630.0C1558.7 621.7 1560.3 613.3 1562.3 605.0C1564.3 596.7 1566.8 588.7 1569.2 580.0C1571.7 571.3 1574.2 562.2 1577.0 553.0C1579.8 543.8 1583.7 533.8 1586.0 525.0C1588.3 516.2 1589.7 506.8 1591.0 500.0C1592.3 493.2 1592.2 488.8 1594.0 484.0C1595.8 479.2 1599.6 475.6 1601.5 471.1C1603.4 466.6 1603.5 463.0 1605.5 456.9C1607.5 450.8 1610.5 441.2 1613.6 434.7C1616.7 428.2 1621.6 422.9 1624.0 418.0C1626.4 413.1 1625.3 409.3 1628.0 405.0C1630.7 400.7 1635.2 399.6 1639.9 392.1C1644.7 384.6 1651.5 367.7 1656.5 360.0C1661.5 352.3 1665.5 350.2 1670.0 346.0C1674.5 341.8 1679.1 339.3 1683.3 334.7C1687.5 330.1 1691.7 323.0 1695.2 318.3C1698.7 313.6 1701.0 310.1 1704.2 306.4C1707.4 302.7 1711.4 298.2 1714.6 296.0C1717.8 293.8 1721.0 295.7 1723.5 293.0C1726.0 290.3 1727.0 283.5 1729.5 280.0C1732.0 276.5 1735.9 272.7 1738.4 272.0C1740.9 271.3 1741.4 277.5 1744.3 276.0C1747.2 274.5 1752.8 264.8 1755.7 262.9C1758.7 261.0 1759.3 265.9 1762.0 264.5C1764.7 263.1 1768.6 257.8 1772.1 254.3C1775.6 250.8 1780.0 245.3 1783.0 243.5C1786.0 241.7 1787.7 244.4 1790.0 243.5C1792.3 242.6 1793.5 239.1 1797.1 237.9C1800.7 236.7 1806.9 237.4 1811.4 236.4C1815.9 235.4 1821.2 232.8 1824.3 232.1C1827.4 231.4 1827.4 233.1 1830.0 232.5C1832.6 231.9 1835.3 230.5 1840.0 228.5C1844.7 226.5 1853.0 221.2 1858.0 220.5C1863.0 219.8 1866.0 225.2 1870.0 224.5C1874.0 223.8 1877.6 218.1 1882.0 216.4C1886.4 214.7 1892.2 214.4 1896.3 214.4C1900.4 214.4 1903.1 216.9 1906.4 216.4C1909.8 215.9 1911.7 212.9 1916.4 211.4C1921.1 209.9 1928.8 208.6 1934.5 207.4C1940.2 206.2 1945.2 205.9 1950.6 204.4C1955.9 202.9 1961.2 199.1 1966.6 198.4C1971.9 197.7 1977.0 202.4 1982.7 200.4C1988.4 198.4 1996.1 187.8 2000.8 186.3C2005.5 184.8 2006.8 189.3 2010.8 191.3C2014.8 193.3 2020.9 199.2 2024.9 198.4C2028.9 197.6 2030.3 188.8 2035.0 186.3C2039.7 183.8 2048.7 183.6 2053.0 183.3C2057.3 183.0 2058.0 186.2 2061.0 184.3C2064.0 182.5 2067.7 172.9 2071.0 172.2C2074.3 171.5 2077.3 177.5 2081.0 180.3C2084.7 183.2 2088.8 189.6 2093.2 189.3C2097.6 189.0 2103.3 182.0 2107.3 178.3C2111.3 174.6 2114.0 168.2 2117.3 167.2C2120.7 166.2 2123.1 171.0 2127.4 172.2C2131.8 173.4 2137.7 174.7 2143.4 174.2C2149.1 173.7 2156.1 168.5 2161.5 169.2C2166.9 169.9 2170.6 178.0 2175.6 178.3C2180.6 178.6 2185.7 173.4 2191.7 171.2C2197.7 169.0 2205.8 165.9 2211.8 165.2C2217.8 164.5 2222.5 167.7 2227.8 167.2C2233.2 166.7 2237.9 164.1 2243.9 162.2C2249.9 160.3 2260.7 157.0 2264.0 156.0"/>
<path stroke="#0072E6" d="M952.0 1016.0C960.0 1014.7 981.3 1010.8 1000.0 1008.0C1018.7 1005.2 1044.0 1002.0 1064.0 999.3C1084.0 996.6 1101.0 994.3 1120.0 992.0C1139.0 989.7 1158.8 987.5 1178.0 985.6C1197.2 983.7 1215.9 982.0 1235.0 980.5C1254.1 979.0 1273.3 978.0 1292.5 976.4C1311.7 974.8 1335.4 972.4 1350.0 971.0C1364.6 969.6 1369.9 969.5 1380.0 968.0C1390.1 966.5 1402.0 964.0 1410.4 962.0C1418.8 960.0 1424.0 958.2 1430.6 956.0C1437.2 953.8 1444.8 951.2 1450.0 948.5C1455.2 945.8 1458.3 943.4 1462.0 940.0C1465.7 936.6 1469.0 932.0 1472.0 928.0C1475.0 924.0 1477.7 920.0 1480.0 916.0C1482.3 912.0 1484.0 908.2 1486.0 904.0C1488.0 899.8 1490.0 895.5 1492.0 891.0C1494.0 886.5 1496.0 881.8 1498.0 877.0C1500.0 872.2 1502.2 866.5 1504.0 862.0C1505.8 857.5 1507.4 853.7 1509.0 850.0C1510.6 846.3 1511.9 846.3 1513.6 840.0C1515.3 833.7 1515.8 824.7 1519.0 812.0C1522.2 799.3 1528.4 779.3 1533.0 764.0C1537.6 748.7 1543.5 730.7 1546.8 720.0C1550.0 709.3 1550.5 706.7 1552.5 700.0C1554.5 693.3 1556.4 687.5 1558.8 680.0C1561.1 672.5 1564.3 663.3 1566.8 655.0C1569.3 646.7 1571.1 638.3 1573.6 630.0C1576.1 621.7 1578.6 613.3 1581.7 605.0C1584.8 596.7 1588.3 589.2 1592.4 580.0C1596.5 570.8 1601.2 560.0 1606.5 550.0C1611.8 540.0 1619.2 529.2 1624.5 520.0C1629.8 510.8 1633.8 503.3 1638.5 495.0C1643.2 486.7 1647.2 478.3 1652.7 470.0C1658.2 461.7 1664.5 453.3 1671.2 445.0C1677.9 436.7 1686.7 426.8 1692.9 420.0C1699.2 413.2 1704.2 409.6 1708.7 404.3C1713.2 399.0 1717.0 392.1 1720.0 388.0C1723.0 383.9 1722.1 384.7 1726.4 380.0C1730.7 375.3 1740.1 366.7 1745.7 360.0C1751.3 353.3 1754.3 346.7 1760.0 340.0C1765.7 333.3 1774.6 323.8 1779.6 320.0C1784.6 316.2 1787.1 317.7 1790.0 317.0C1792.9 316.3 1794.1 318.3 1797.1 315.7C1800.1 313.1 1803.7 305.8 1807.9 301.4C1812.1 297.0 1818.8 290.7 1822.1 289.3C1825.4 287.9 1826.7 292.1 1828.0 293.0C1829.3 293.9 1828.0 296.9 1830.0 294.8C1832.0 292.8 1836.0 284.4 1840.0 280.7C1844.0 277.0 1850.8 273.5 1854.1 272.7C1857.4 271.9 1857.8 277.0 1860.1 275.7C1862.4 274.4 1864.8 265.5 1868.2 264.7C1871.6 263.9 1875.5 271.4 1880.2 270.7C1884.9 270.0 1892.3 261.4 1896.3 260.6C1900.3 259.8 1900.3 267.0 1904.3 265.7C1908.3 264.4 1916.4 253.9 1920.4 252.6C1924.4 251.2 1925.8 258.3 1928.5 257.6C1931.2 256.9 1932.8 249.1 1936.5 248.6C1940.2 248.1 1946.6 254.9 1950.6 254.6C1954.6 254.3 1957.3 247.3 1960.6 246.6C1963.9 245.9 1967.6 250.3 1970.6 250.6C1973.6 250.9 1974.7 248.3 1978.7 248.6C1982.7 248.9 1988.1 251.9 1994.8 252.6C2001.5 253.3 2013.9 254.9 2018.9 252.6C2023.9 250.2 2019.6 240.8 2024.9 238.5C2030.2 236.2 2044.7 237.5 2051.0 238.5C2057.3 239.5 2059.7 244.9 2063.0 244.6C2066.3 244.3 2068.0 236.8 2071.0 236.5C2074.0 236.2 2078.0 243.9 2081.0 242.6C2084.0 241.3 2086.2 229.5 2089.2 228.5C2092.2 227.5 2096.2 237.0 2099.2 236.5C2102.2 236.0 2104.3 227.5 2107.3 225.5C2110.3 223.5 2114.0 226.5 2117.3 224.5C2120.7 222.5 2124.1 214.2 2127.4 213.4C2130.8 212.6 2132.7 220.5 2137.4 219.5C2142.1 218.5 2149.8 208.6 2155.5 207.4C2161.2 206.2 2165.9 213.4 2171.6 212.4C2177.3 211.4 2183.6 203.9 2189.6 201.4C2195.6 198.9 2201.7 199.2 2207.7 197.4C2213.7 195.6 2219.4 190.3 2225.8 190.3C2232.2 190.3 2240.5 197.6 2245.9 197.4C2251.3 197.2 2255.0 190.5 2258.0 189.3C2261.0 188.1 2263.0 189.9 2264.0 190.0"/>
<path stroke="#00AF66" d="M952.0 1008.0C960.0 1006.5 981.3 1002.3 1000.0 999.0C1018.7 995.7 1044.0 991.2 1064.0 988.0C1084.0 984.8 1101.0 982.3 1120.0 980.0C1139.0 977.7 1158.8 975.6 1178.0 974.0C1197.2 972.4 1215.9 971.6 1235.0 970.5C1254.1 969.4 1275.0 968.4 1292.5 967.3C1310.0 966.2 1325.4 965.1 1340.0 964.0C1354.6 962.9 1364.9 963.0 1380.0 960.5C1395.1 958.0 1419.6 952.3 1430.6 949.3C1441.6 946.2 1441.1 944.9 1445.8 942.2C1450.5 939.5 1455.1 936.6 1459.0 933.1C1462.9 929.6 1466.0 924.7 1469.0 921.0C1472.0 917.3 1474.8 914.6 1477.2 910.9C1479.6 907.2 1481.2 902.8 1483.2 898.7C1485.2 894.7 1487.3 891.0 1489.3 886.6C1491.3 882.2 1493.4 877.1 1495.4 872.4C1497.4 867.7 1499.1 863.6 1501.5 858.2C1503.9 852.8 1507.5 848.5 1509.6 840.0C1511.7 831.5 1511.9 818.8 1514.3 807.0C1516.7 795.2 1520.2 783.3 1523.8 769.0C1527.4 754.7 1533.2 729.6 1535.7 721.4C1538.2 713.2 1537.3 723.6 1538.7 720.0C1540.1 716.4 1542.2 706.7 1544.0 700.0C1545.8 693.3 1547.6 687.5 1549.8 680.0C1552.0 672.5 1554.8 663.3 1557.0 655.0C1559.2 646.7 1560.8 638.3 1562.9 630.0C1565.0 621.7 1566.7 613.3 1569.5 605.0C1572.3 596.7 1575.7 589.2 1579.6 580.0C1583.5 570.8 1589.2 559.2 1593.1 550.0C1597.0 540.8 1599.6 533.3 1603.0 525.0C1606.4 516.7 1608.7 509.2 1613.3 500.0C1617.9 490.8 1624.5 479.2 1630.4 470.0C1636.3 460.8 1643.0 453.3 1648.6 445.0C1654.2 436.7 1660.0 426.4 1664.0 420.0C1668.0 413.6 1669.2 410.9 1672.3 406.3C1675.4 401.7 1677.9 396.5 1682.4 392.1C1687.0 387.7 1693.8 385.4 1699.6 380.0C1705.4 374.6 1711.1 366.7 1717.1 360.0C1723.1 353.3 1729.4 346.5 1735.4 340.0C1741.4 333.5 1748.6 326.5 1753.0 321.0C1757.4 315.5 1758.8 310.2 1762.0 307.0C1765.2 303.8 1769.0 304.4 1772.5 302.0C1776.0 299.6 1780.0 296.7 1782.9 292.9C1785.8 289.1 1787.6 281.6 1790.0 279.0C1792.4 276.4 1794.7 277.6 1797.1 277.0C1799.5 276.4 1802.5 277.2 1804.3 275.7C1806.1 274.2 1806.1 270.5 1807.9 268.0C1809.7 265.5 1812.0 262.5 1815.0 260.7C1818.0 258.9 1823.2 257.8 1825.7 257.1C1828.2 256.4 1826.0 259.4 1830.0 256.6C1834.0 253.9 1843.3 242.9 1850.0 240.6C1856.7 238.3 1863.5 243.6 1870.2 242.6C1876.9 241.6 1882.9 236.7 1890.3 234.5C1897.7 232.3 1908.4 231.5 1914.4 229.5C1920.4 227.5 1921.7 224.3 1926.4 222.5C1931.1 220.7 1936.8 219.5 1942.5 218.5C1948.2 217.5 1954.2 218.4 1960.6 216.4C1967.0 214.4 1974.0 208.7 1980.7 206.4C1987.4 204.1 1994.4 204.8 2000.8 202.4C2007.2 200.1 2013.9 193.3 2018.9 192.3C2023.9 191.3 2027.0 196.4 2031.0 196.4C2035.0 196.4 2036.3 194.7 2043.0 192.3C2049.7 190.0 2064.7 182.8 2071.0 182.3C2077.3 181.8 2077.0 189.5 2081.0 189.3C2085.0 189.1 2088.5 183.0 2095.2 181.3C2101.9 179.6 2113.3 180.1 2121.3 179.3C2129.3 178.5 2135.0 177.3 2143.4 176.3C2151.8 175.3 2163.6 174.7 2171.6 173.2C2179.6 171.7 2185.0 168.9 2191.7 167.2C2198.4 165.5 2205.1 164.4 2211.8 163.2C2218.5 162.0 2225.9 161.4 2231.9 160.2C2237.9 159.0 2242.6 157.9 2247.9 156.2C2253.2 154.5 2261.3 151.0 2264.0 150.0"/>
<path stroke="#C27AE5" d="M952.0 999.3C960.0 998.6 981.3 996.5 1000.0 995.0C1018.7 993.5 1044.0 991.4 1064.0 990.0C1084.0 988.6 1101.0 987.6 1120.0 986.5C1139.0 985.4 1158.8 984.3 1178.0 983.3C1197.2 982.3 1215.9 981.5 1235.0 980.5C1254.1 979.5 1275.0 978.6 1292.5 977.6C1310.0 976.6 1325.4 975.5 1340.0 974.5C1354.6 973.5 1368.3 972.7 1380.0 971.5C1391.7 970.3 1402.0 969.0 1410.4 967.5C1418.8 966.0 1423.8 964.9 1430.6 962.5C1437.3 960.1 1445.0 956.9 1450.9 953.4C1456.8 949.9 1461.8 945.3 1466.0 941.2C1470.2 937.1 1472.8 933.7 1476.2 929.0C1479.6 924.3 1482.9 919.0 1486.3 912.9C1489.7 906.8 1493.0 899.7 1496.4 892.6C1499.8 885.5 1503.5 877.1 1506.5 870.4C1509.5 863.6 1512.2 857.2 1514.6 852.1C1517.0 847.0 1518.6 845.4 1520.7 840.0C1522.8 834.6 1524.5 827.8 1527.0 820.0C1529.5 812.2 1532.5 801.6 1535.7 793.3C1538.9 785.0 1542.6 778.0 1546.0 770.0C1549.4 762.0 1552.7 753.3 1556.0 745.0C1559.3 736.7 1563.0 727.5 1566.0 720.0C1569.0 712.5 1571.3 706.7 1574.0 700.0C1576.7 693.3 1579.2 687.5 1582.0 680.0C1584.8 672.5 1587.7 663.3 1590.9 655.0C1594.1 646.7 1597.1 638.3 1601.3 630.0C1605.5 621.7 1611.0 613.3 1615.9 605.0C1620.8 596.7 1624.1 589.2 1630.5 580.0C1636.9 570.8 1648.0 560.0 1654.4 550.0C1660.8 540.0 1663.9 529.2 1669.1 520.0C1674.3 510.8 1680.3 503.3 1685.5 495.0C1690.7 486.7 1695.2 478.3 1700.4 470.0C1705.6 461.7 1712.8 450.5 1716.4 445.0C1720.0 439.5 1719.5 441.2 1722.0 437.0C1724.5 432.8 1728.2 426.2 1731.4 420.0C1734.6 413.8 1738.0 406.7 1741.4 400.0C1744.8 393.3 1748.5 386.7 1751.8 380.0C1755.1 373.3 1758.7 366.7 1761.4 360.0C1764.1 353.3 1763.8 346.7 1767.9 340.0C1772.0 333.3 1782.3 325.5 1786.0 320.0C1789.7 314.5 1788.2 309.8 1790.0 307.1C1791.8 304.4 1794.7 306.3 1797.1 303.6C1799.5 300.9 1801.3 294.9 1804.3 290.7C1807.3 286.5 1812.0 282.4 1815.0 278.6C1818.0 274.8 1819.9 269.9 1822.1 267.9C1824.3 265.9 1826.7 266.7 1828.0 266.5C1829.3 266.3 1827.7 268.7 1830.0 266.7C1832.3 264.7 1837.7 257.9 1842.0 254.6C1846.3 251.2 1851.3 249.3 1856.0 246.6C1860.7 243.9 1863.5 242.2 1870.2 238.5C1876.9 234.8 1888.6 227.8 1896.3 224.5C1904.0 221.2 1909.7 220.8 1916.4 218.5C1923.1 216.2 1930.8 210.1 1936.5 210.4C1942.2 210.7 1946.6 220.8 1950.6 220.5C1954.6 220.2 1956.2 209.4 1960.6 208.4C1964.9 207.4 1972.0 214.1 1976.7 214.4C1981.4 214.7 1982.0 210.7 1988.7 210.4C1995.4 210.1 2009.2 213.7 2016.9 212.4C2024.6 211.1 2030.3 203.1 2035.0 202.4C2039.7 201.7 2040.7 209.8 2045.0 208.4C2049.3 207.1 2055.0 195.3 2061.0 194.3C2067.0 193.3 2074.6 202.1 2081.0 202.4C2087.4 202.8 2093.5 199.4 2099.2 196.4C2104.9 193.4 2110.6 188.0 2115.3 184.3C2120.0 180.6 2124.1 175.2 2127.4 174.2C2130.8 173.2 2132.1 179.1 2135.4 178.3C2138.8 177.5 2143.2 169.5 2147.5 169.2C2151.8 168.9 2155.5 178.1 2161.5 176.3C2167.5 174.5 2177.9 160.7 2183.6 158.2C2189.3 155.7 2188.7 163.4 2195.7 161.2C2202.7 159.0 2218.1 147.3 2225.8 145.1C2233.5 142.9 2235.5 149.1 2241.9 148.1C2248.3 147.1 2260.3 140.5 2264.0 139.0"/>
<g stroke="#000" stroke-width="3.6" stroke-dasharray="13 15" stroke-linecap="round">
<line x1="1458.7" y1="1043" x2="1684.8" y2="115"/>
<line x1="1444.7" y1="1043" x2="1718.5" y2="115"/>
<line x1="1443.0" y1="1043" x2="1737.0" y2="115"/>
<line x1="1469.6" y1="1043" x2="1737.0" y2="115"/>
<line x1="1446.6" y1="1043" x2="1799.2" y2="115"/>
</g>
</g>
<rect x="950" y="113" width="1316" height="932" fill="none" stroke="#000" stroke-width="4"/>
<g stroke="#000" stroke-width="4">
<line x1="950" y1="1045" x2="950" y2="1062"/>
<line x1="1169.3" y1="1045" x2="1169.3" y2="1062"/>
<line x1="1388.7" y1="1045" x2="1388.7" y2="1062"/>
<line x1="1608" y1="1045" x2="1608" y2="1062"/>
<line x1="1827.3" y1="1045" x2="1827.3" y2="1062"/>
<line x1="2046.7" y1="1045" x2="2046.7" y2="1062"/>
<line x1="2266" y1="1045" x2="2266" y2="1062"/>
<line x1="1059.7" y1="1045" x2="1059.7" y2="1052"/>
<line x1="1279" y1="1045" x2="1279" y2="1052"/>
<line x1="1498.3" y1="1045" x2="1498.3" y2="1052"/>
<line x1="1717.7" y1="1045" x2="1717.7" y2="1052"/>
<line x1="1937" y1="1045" x2="1937" y2="1052"/>
<line x1="2156.3" y1="1045" x2="2156.3" y2="1052"/>
<line x1="932" y1="1007.6" x2="950" y2="1007.6"/>
<line x1="932" y1="646.2" x2="950" y2="646.2"/>
<line x1="932" y1="284.8" x2="950" y2="284.8"/>
<line x1="941" y1="826.9" x2="950" y2="826.9"/>
<line x1="941" y1="465.5" x2="950" y2="465.5"/>
</g>
<g font-size="64" text-anchor="middle">
<text x="950" y="1116.5">2.0</text>
<text x="1169.3" y="1116.5">2.5</text>
<text x="1388.7" y="1116.5">3.0</text>
<text x="1608" y="1116.5">3.5</text>
<text x="1827.3" y="1116.5">4.0</text>
<text x="2046.7" y="1116.5">4.5</text>
<text x="2266" y="1116.5">5.0</text>
</g>
<g font-size="64" text-anchor="end">
<text x="922.5" y="1023.2">0</text>
<text x="922.5" y="660.9">2</text>
<text x="922.5" y="299.3">4</text>
</g>
<text class="b" x="1541" y="1212" font-size="64" textLength="36.7" lengthAdjust="spacingAndGlyphs">E</text>
<text class="b" x="1594.7" y="1207.2" font-size="57">(</text>
<text class="b" x="1613.8" y="1212" font-size="64" textLength="75.5" lengthAdjust="spacingAndGlyphs">eV</text>
<text class="b" x="1691" y="1207.2" font-size="57">)</text>
<g transform="translate(852,823) rotate(-90)">
<text class="b" x="-4.4" y="0" font-size="64" textLength="138.7" lengthAdjust="spacingAndGlyphs">[F(R)</text>
<text x="135" y="11" font-size="34" textLength="28" lengthAdjust="spacingAndGlyphs">∞</text>
<text class="b" x="165" y="0" font-size="64" textLength="72" lengthAdjust="spacingAndGlyphs">hυ</text>
<text class="b" x="240" y="-24" font-size="42" textLength="64" lengthAdjust="spacingAndGlyphs">]0.5</text>
<text class="b" x="322.8" y="-5" font-size="57">(</text>
<text class="b" x="340.9" y="0" font-size="64" textLength="77" lengthAdjust="spacingAndGlyphs">eV</text>
<text class="b" x="421" y="-24" font-size="42" textLength="54" lengthAdjust="spacingAndGlyphs">0.5</text>
<text class="b" x="471.8" y="-5" font-size="57">)</text>
</g>
<!-- legend -->
<g stroke-width="10" stroke-linecap="round">
<line x1="1702" y1="640" x2="1867" y2="640" stroke="#747474"/>
<line x1="1702" y1="730.6" x2="1867" y2="730.6" stroke="#FF3F3F"/>
<line x1="1702" y1="821.2" x2="1867" y2="821.2" stroke="#0072E6"/>
<line x1="1702" y1="911.7" x2="1867" y2="911.7" stroke="#00AF66"/>
<line x1="1702" y1="1002.2" x2="1867" y2="1002.2" stroke="#C27AE5"/>
</g>
<g font-size="66">
<text x="1882" y="663.5" textLength="148" lengthAdjust="spacingAndGlyphs">cSTO</text>
<text x="1880.5" y="754.1" textLength="338.5" lengthAdjust="spacingAndGlyphs">STO_5_SCO</text>
<text x="1881" y="844.7" textLength="369.5" lengthAdjust="spacingAndGlyphs">STO_15_SCO</text>
<text x="1881" y="935.3" textLength="369.5" lengthAdjust="spacingAndGlyphs">STO_21_SCO</text>
<text x="1881" y="1025.9" textLength="369.5" lengthAdjust="spacingAndGlyphs">STO_24_SCO</text>
</g>
</svg>
</body></html>
